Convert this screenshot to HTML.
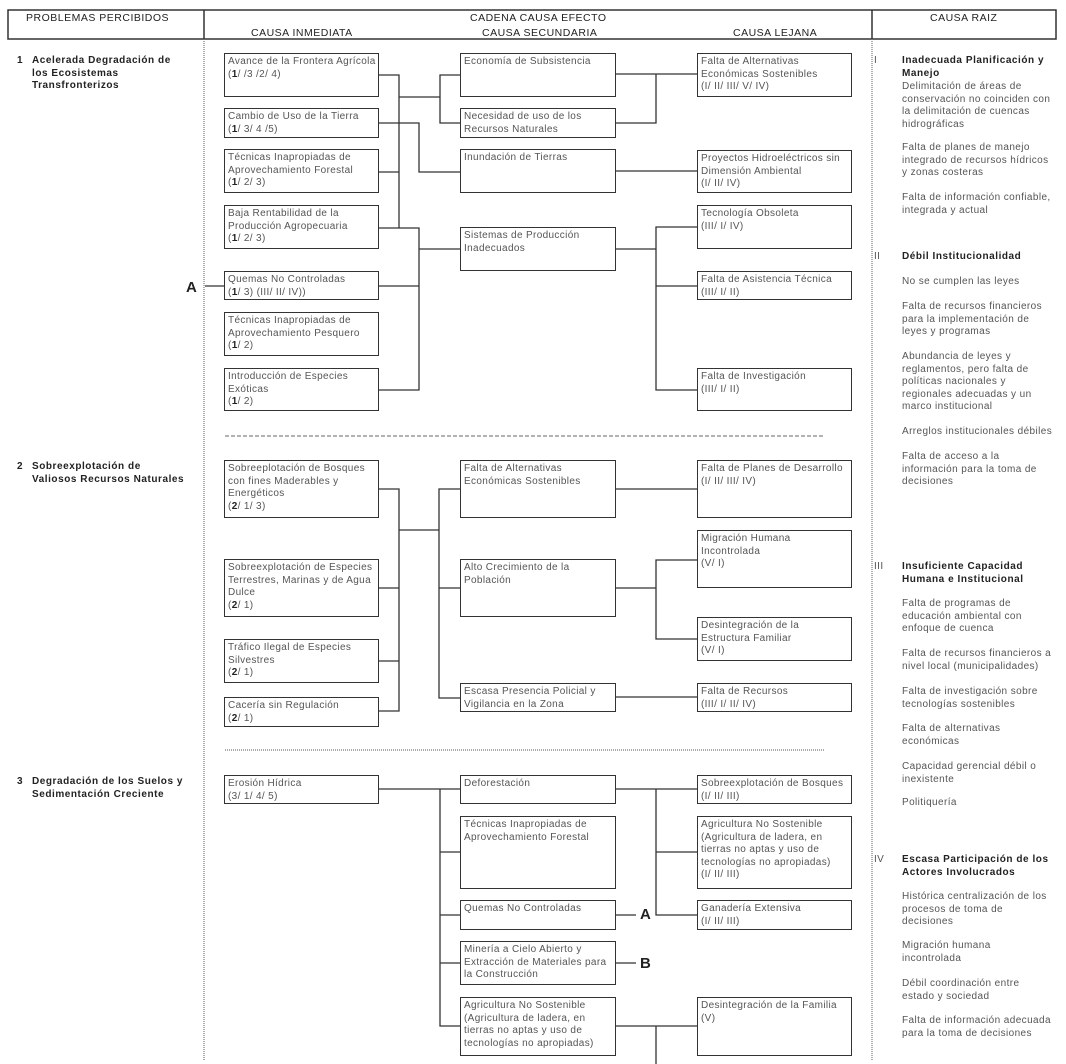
<!DOCTYPE html>
<html><head><meta charset="utf-8">
<style>
body{margin:0;background:#fff;}
#c{position:relative;width:1066px;height:1064px;overflow:hidden;background:#fff;font-family:"Liberation Sans",sans-serif;}
.b{position:absolute;border:1.5px solid #333;box-sizing:border-box;padding:2px 3px;font-size:10px;line-height:12.5px;color:#555;background:#fff;letter-spacing:0.35px;white-space:nowrap;}
.b b{color:#222;}
.t{position:absolute;font-size:10px;line-height:12.5px;color:#555;white-space:nowrap;letter-spacing:0.4px;}
.h{position:absolute;font-size:10.5px;color:#222;white-space:nowrap;letter-spacing:0.5px;}
.p{position:absolute;font-size:10px;line-height:12.5px;color:#222;font-weight:bold;white-space:nowrap;letter-spacing:0.55px;}
.L{position:absolute;font-size:15px;font-weight:bold;color:#222;}
svg{position:absolute;left:0;top:0;}
</style></head><body><div id="c">
<svg width="1066" height="1064">
<g stroke="#333" stroke-width="1.5" fill="none">
<rect x="8" y="10" width="1048" height="29"/>
<line x1="204" y1="10" x2="204" y2="39"/><line x1="872" y1="10" x2="872" y2="39"/>
</g>
<g stroke="#777" stroke-width="1.2" stroke-dasharray="1,1">
<line x1="204" y1="39" x2="204" y2="1060"/><line x1="872" y1="39" x2="872" y2="1060"/>
<line x1="225" y1="750" x2="825" y2="750"/>
</g>
<line x1="225" y1="436" x2="825" y2="436" stroke="#666" stroke-width="1" stroke-dasharray="4,2"/>
<g stroke="#333" stroke-width="1.3" fill="none">
<polyline points="379,75 399,75 399,228"/><line x1="379" y1="172" x2="399" y2="172"/>
<line x1="399" y1="97" x2="440" y2="97"/>
<polyline points="460,75 440,75 440,123 460,123"/>
<polyline points="379,123 419,123 419,172 460,172"/>
<polyline points="379,228 419,228 419,390 379,390"/>
<line x1="379" y1="286" x2="419" y2="286"/><line x1="419" y1="249" x2="460" y2="249"/>
<line x1="205" y1="286" x2="224" y2="286"/>
<line x1="615" y1="74" x2="697" y2="74"/><polyline points="615,123 656,123 656,74"/>
<line x1="615" y1="171" x2="697" y2="171"/>
<line x1="615" y1="249" x2="656" y2="249"/>
<polyline points="697,227 656,227 656,390 697,390"/><line x1="656" y1="286" x2="697" y2="286"/>
<polyline points="379,489 399,489 399,711 379,711"/>
<line x1="379" y1="588" x2="399" y2="588"/><line x1="379" y1="661" x2="399" y2="661"/>
<line x1="399" y1="530" x2="439" y2="530"/>
<polyline points="460,489 439,489 439,698 460,698"/><line x1="439" y1="588" x2="460" y2="588"/>
<line x1="615" y1="489" x2="697" y2="489"/>
<line x1="615" y1="588" x2="656" y2="588"/>
<polyline points="697,560 656,560 656,639 697,639"/>
<line x1="615" y1="697" x2="697" y2="697"/>
<line x1="379" y1="789" x2="460" y2="789"/>
<polyline points="440,789 440,1026 460,1026"/>
<line x1="440" y1="852" x2="460" y2="852"/><line x1="440" y1="915" x2="460" y2="915"/><line x1="440" y1="963" x2="460" y2="963"/>
<line x1="615" y1="789" x2="697" y2="789"/>
<polyline points="656,789 656,915 697,915"/><line x1="656" y1="852" x2="697" y2="852"/>
<line x1="615" y1="915" x2="636" y2="915"/><line x1="615" y1="963" x2="636" y2="963"/>
<line x1="615" y1="1026" x2="697" y2="1026"/><line x1="656" y1="1026" x2="656" y2="1064"/>
</g>
</svg>
<div class="h" style="left:26px;top:12px">PROBLEMAS PERCIBIDOS</div>
<div class="h" style="left:470px;top:12px">CADENA CAUSA EFECTO</div>
<div class="h" style="left:251px;top:27px">CAUSA INMEDIATA</div>
<div class="h" style="left:482px;top:27px">CAUSA SECUNDARIA</div>
<div class="h" style="left:733px;top:27px">CAUSA LEJANA</div>
<div class="h" style="left:930px;top:12px">CAUSA RAIZ</div>

<div class="p" style="left:17px;top:55px">1</div>
<div class="p" style="left:32px;top:55px">Acelerada Degradación de<br>los Ecosistemas<br>Transfronterizos</div>
<div class="p" style="left:17px;top:461px">2</div>
<div class="p" style="left:32px;top:461px">Sobreexplotación de<br>Valiosos Recursos Naturales</div>
<div class="p" style="left:17px;top:776px">3</div>
<div class="p" style="left:32px;top:776px">Degradación de los Suelos y<br>Sedimentación Creciente</div>
<div class="L" style="left:186px;top:279px">A</div>
<div class="L" style="left:640px;top:906px">A</div>
<div class="L" style="left:640px;top:955px">B</div>

<div class="b" style="left:224px;top:53px;width:155px;height:44px">Avance de la Frontera Agrícola<br>(<b>1</b>/ /3 /2/ 4)</div>
<div class="b" style="left:224px;top:108px;width:155px;height:30px">Cambio de Uso de la Tierra<br>(<b>1</b>/ 3/ 4 /5)</div>
<div class="b" style="left:224px;top:149px;width:155px;height:44px">Técnicas Inapropiadas de<br>Aprovechamiento Forestal<br>(<b>1</b>/ 2/ 3)</div>
<div class="b" style="left:224px;top:205px;width:155px;height:44px">Baja Rentabilidad de la<br>Producción Agropecuaria<br>(<b>1</b>/ 2/ 3)</div>
<div class="b" style="left:224px;top:271px;width:155px;height:29px">Quemas No Controladas<br>(<b>1</b>/ 3) (III/ II/ IV))</div>
<div class="b" style="left:224px;top:312px;width:155px;height:44px">Técnicas Inapropiadas de<br>Aprovechamiento Pesquero<br>(<b>1</b>/ 2)</div>
<div class="b" style="left:224px;top:368px;width:155px;height:43px">Introducción de Especies<br>Exóticas<br>(<b>1</b>/ 2)</div>
<div class="b" style="left:460px;top:53px;width:156px;height:44px">Economía de Subsistencia</div>
<div class="b" style="left:460px;top:108px;width:156px;height:30px">Necesidad de uso de los<br>Recursos Naturales</div>
<div class="b" style="left:460px;top:149px;width:156px;height:44px">Inundación de Tierras</div>
<div class="b" style="left:460px;top:227px;width:156px;height:44px">Sistemas de Producción<br>Inadecuados</div>
<div class="b" style="left:697px;top:53px;width:155px;height:44px">Falta de Alternativas<br>Económicas Sostenibles<br>(I/ II/ III/ V/ IV)</div>
<div class="b" style="left:697px;top:150px;width:155px;height:43px">Proyectos Hidroeléctricos sin<br>Dimensión Ambiental<br>(I/ II/ IV)</div>
<div class="b" style="left:697px;top:205px;width:155px;height:44px">Tecnología Obsoleta<br>(III/ I/ IV)</div>
<div class="b" style="left:697px;top:271px;width:155px;height:29px">Falta de Asistencia Técnica<br>(III/ I/ II)</div>
<div class="b" style="left:697px;top:368px;width:155px;height:43px">Falta de Investigación<br>(III/ I/ II)</div>
<div class="b" style="left:224px;top:460px;width:155px;height:58px">Sobreeplotación de Bosques<br>con fines Maderables y<br>Energéticos<br>(<b>2</b>/ 1/ 3)</div>
<div class="b" style="left:224px;top:559px;width:155px;height:58px">Sobreexplotación de Especies<br>Terrestres, Marinas y de Agua<br>Dulce<br>(<b>2</b>/ 1)</div>
<div class="b" style="left:224px;top:639px;width:155px;height:44px">Tráfico Ilegal de Especies<br>Silvestres<br>(<b>2</b>/ 1)</div>
<div class="b" style="left:224px;top:697px;width:155px;height:30px">Cacería sin Regulación<br>(<b>2</b>/ 1)</div>
<div class="b" style="left:460px;top:460px;width:156px;height:58px">Falta de Alternativas<br>Económicas Sostenibles</div>
<div class="b" style="left:460px;top:559px;width:156px;height:58px">Alto Crecimiento de la<br>Población</div>
<div class="b" style="left:460px;top:683px;width:156px;height:29px">Escasa Presencia Policial y<br>Vigilancia en la Zona</div>
<div class="b" style="left:697px;top:460px;width:155px;height:58px">Falta de Planes de Desarrollo<br>(I/ II/ III/ IV)</div>
<div class="b" style="left:697px;top:530px;width:155px;height:58px">Migración Humana<br>Incontrolada<br>(V/ I)</div>
<div class="b" style="left:697px;top:617px;width:155px;height:44px">Desintegración de la<br>Estructura Familiar<br>(V/ I)</div>
<div class="b" style="left:697px;top:683px;width:155px;height:29px">Falta de Recursos<br>(III/ I/ II/ IV)</div>
<div class="b" style="left:224px;top:775px;width:155px;height:29px">Erosión Hídrica<br>(3/ 1/ 4/ 5)</div>
<div class="b" style="left:460px;top:775px;width:156px;height:29px">Deforestación</div>
<div class="b" style="left:460px;top:816px;width:156px;height:73px">Técnicas Inapropiadas de<br>Aprovechamiento Forestal</div>
<div class="b" style="left:460px;top:900px;width:156px;height:30px">Quemas No Controladas</div>
<div class="b" style="left:460px;top:941px;width:156px;height:44px">Minería a Cielo Abierto y<br>Extracción de Materiales para<br>la Construcción</div>
<div class="b" style="left:460px;top:997px;width:156px;height:59px">Agricultura No Sostenible<br>(Agricultura de ladera, en<br>tierras no aptas y uso de<br>tecnologías no apropiadas)</div>
<div class="b" style="left:697px;top:775px;width:155px;height:29px">Sobreexplotación de Bosques<br>(I/ II/ III)</div>
<div class="b" style="left:697px;top:816px;width:155px;height:73px">Agricultura No Sostenible<br>(Agricultura de ladera, en<br>tierras no aptas y uso de<br>tecnologías no apropiadas)<br>(I/ II/ III)</div>
<div class="b" style="left:697px;top:900px;width:155px;height:30px">Ganadería Extensiva<br>(I/ II/ III)</div>
<div class="b" style="left:697px;top:997px;width:155px;height:59px">Desintegración de la Familia<br>(V)</div>

<div class="t" style="left:874px;top:55px">I</div>
<div class="p" style="left:902px;top:55px">Inadecuada Planificación y<br>Manejo</div>
<div class="t" style="left:902px;top:81px">Delimitación de áreas de<br>conservación no coinciden con<br>la delimitación de cuencas<br>hidrográficas</div>
<div class="t" style="left:902px;top:142px">Falta de planes de manejo<br>integrado de recursos hídricos<br>y zonas costeras</div>
<div class="t" style="left:902px;top:192px">Falta de información confiable,<br>integrada y actual</div>
<div class="t" style="left:874px;top:251px">II</div>
<div class="p" style="left:902px;top:251px">Débil Institucionalidad</div>
<div class="t" style="left:902px;top:276px">No se cumplen las leyes</div>
<div class="t" style="left:902px;top:301px">Falta de recursos financieros<br>para la implementación de<br>leyes y programas</div>
<div class="t" style="left:902px;top:351px">Abundancia de leyes y<br>reglamentos, pero falta de<br>políticas nacionales y<br>regionales adecuadas y un<br>marco institucional</div>
<div class="t" style="left:902px;top:426px">Arreglos institucionales débiles</div>
<div class="t" style="left:902px;top:451px">Falta de acceso a la<br>información para la toma de<br>decisiones</div>
<div class="t" style="left:874px;top:561px">III</div>
<div class="p" style="left:902px;top:561px">Insuficiente Capacidad<br>Humana e Institucional</div>
<div class="t" style="left:902px;top:598px">Falta de programas de<br>educación ambiental con<br>enfoque de cuenca</div>
<div class="t" style="left:902px;top:648px">Falta de recursos financieros a<br>nivel local (municipalidades)</div>
<div class="t" style="left:902px;top:686px">Falta de investigación sobre<br>tecnologías sostenibles</div>
<div class="t" style="left:902px;top:723px">Falta de alternativas<br>económicas</div>
<div class="t" style="left:902px;top:761px">Capacidad gerencial débil o<br>inexistente</div>
<div class="t" style="left:902px;top:797px">Politiquería</div>
<div class="t" style="left:874px;top:854px">IV</div>
<div class="p" style="left:902px;top:854px">Escasa Participación de los<br>Actores Involucrados</div>
<div class="t" style="left:902px;top:891px">Histórica centralización de los<br>procesos de toma de<br>decisiones</div>
<div class="t" style="left:902px;top:940px">Migración humana<br>incontrolada</div>
<div class="t" style="left:902px;top:978px">Débil coordinación entre<br>estado y sociedad</div>
<div class="t" style="left:902px;top:1015px">Falta de información adecuada<br>para la toma de decisiones</div>
</div></body></html>
